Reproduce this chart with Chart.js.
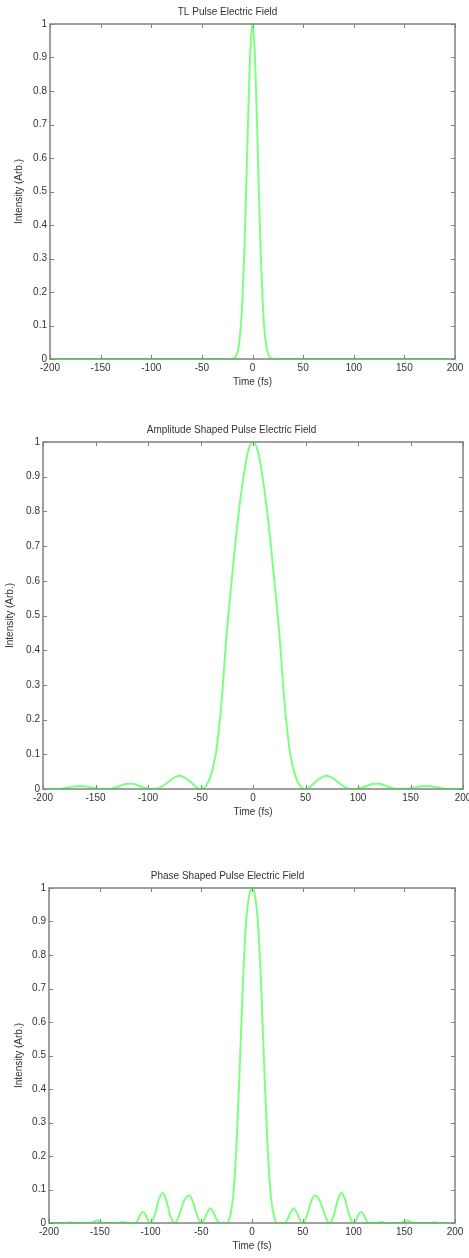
<!DOCTYPE html>
<html>
<head>
<meta charset="utf-8">
<title>Pulse Electric Field</title>
<script src="https://cdn.jsdelivr.net/npm/chart.js@4.4.0/dist/chart.umd.min.js"></script>
<style>
  body { margin: 0; background: #fff; width: 469px; height: 1258px; position: relative; overflow: hidden; }
  canvas { position: absolute; left: 0; }
</style>
</head>
<body>
<canvas id="graficoTL" width="469" height="395" style="top:0px"></canvas>
<canvas id="graficoAmp" width="469" height="407" style="top:418px"></canvas>
<canvas id="graficoFase" width="469" height="395" style="top:864px"></canvas>
<script>
// Tick labels (shared by the three plots)
const timeTicks = [-200, -150, -100, -50, 0, 50, 100, 150, 200];
const intensityTicks = [0, 0.1, 0.2, 0.3, 0.4, 0.5, 0.6, 0.7, 0.8, 0.9, 1];

// 1. TL pulse
const tlTime = [-200, -25, -20, -18, -16, -14, -12, -10, -8, -6, -4, -2, 0,
  2, 4, 6, 8, 10, 12, 14, 16, 18, 20, 25, 200];
const tlIntensity = [0, 0, 0.001, 0.003, 0.011, 0.032, 0.08, 0.174, 0.326, 0.533, 0.756, 0.93, 1,
  0.93, 0.756, 0.533, 0.326, 0.174, 0.08, 0.032, 0.011, 0.003, 0.001, 0, 0];

// 2. Amplitude shaped pulse
const ampTime = [-200, -185, -180, -175, -170, -165, -160, -155, -150, -145, -140, -135, -130, -125,
  -120, -115, -110, -105, -100, -95, -90, -85, -80, -75, -70, -65, -60, -55, -50, -45, -40, -35,
  -30, -25, -20, -15, -10, -5, 0, 5, 10, 15, 20, 25, 30, 35, 40, 45, 50, 55, 60, 65, 70, 75, 80,
  85, 90, 95, 100, 105, 110, 115, 120, 125, 130, 135, 140, 145, 150, 155, 160, 165, 170, 175, 180,
  185, 200];
const ampIntensity = [0, 0, 0.002, 0.005, 0.008, 0.009, 0.008, 0.005, 0.002, 0, 0, 0.001, 0.005, 0.011,
  0.015, 0.015, 0.011, 0.005, 0.001, 0, 0.002, 0.01, 0.022, 0.033, 0.038, 0.033, 0.022, 0.008, 0, 0.008, 0.04, 0.11,
  0.25, 0.45, 0.61, 0.76, 0.88, 0.97, 1, 0.97, 0.88, 0.76, 0.61, 0.45, 0.25, 0.11, 0.04, 0.008, 0, 0.008, 0.022, 0.033, 0.038, 0.033, 0.022,
  0.01, 0.002, 0, 0.001, 0.005, 0.011, 0.015, 0.015, 0.011, 0.005, 0.001, 0, 0, 0.002, 0.005, 0.008, 0.009, 0.008, 0.005, 0.002,
  0, 0];

// 3. Phase shaped pulse
const phaseTime = [-200, -185, -180, -175, -160, -156, -153, -150, -146, -132, -127, -122,
  -115, -112.5, -110, -107.5, -105, -102.5,
  -100, -96, -92, -88, -84.5, -80.5,
  -76.5, -72, -67.5, -62, -58, -54,
  -50, -47, -44, -41, -38, -35,
  -32, -25, -21, -18, -15, -12, -9, -6, -3, 0, 3, 6, 9, 12, 15, 18, 21, 25,
  32, 35, 38, 41, 44, 47,
  50, 54, 58, 62, 67.5, 72,
  76.5, 80.5, 84.5, 88, 92, 96,
  100, 102.5, 105, 107.5, 110, 112.5,
  115, 122, 127, 132, 146, 150, 153, 156, 160, 175, 180, 185, 200];
const phaseIntensity = [0, 0, 0.002, 0, 0, 0.004, 0.008, 0.004, 0, 0, 0.003, 0,
  0, 0.008, 0.025, 0.033, 0.025, 0.008,
  0, 0.022, 0.068, 0.09, 0.068, 0.022,
  0, 0.021, 0.062, 0.083, 0.062, 0.021,
  0, 0.011, 0.032, 0.043, 0.032, 0.011,
  0, 0, 0.03, 0.1, 0.25, 0.47, 0.71, 0.89, 0.975, 1, 0.975, 0.89, 0.71, 0.47, 0.25, 0.1, 0.03, 0,
  0, 0.011, 0.032, 0.043, 0.032, 0.011,
  0, 0.021, 0.062, 0.083, 0.062, 0.021,
  0, 0.022, 0.068, 0.09, 0.068, 0.022,
  0, 0.008, 0.025, 0.033, 0.025, 0.008,
  0, 0, 0.003, 0, 0, 0.004, 0.008, 0.004, 0, 0, 0.002, 0, 0];

const fonte = 'Liberation Sans, Arial, sans-serif';
const corTexto = '#333';

// Box with inward ticks, the MATLAB way
const caixaPlugin = {
  id: 'caixa',
  beforeDatasetsDraw(chart) {
    const { ctx, chartArea: a, scales: { x, y } } = chart;
    ctx.save();
    ctx.strokeStyle = '#808080';
    ctx.lineWidth = 1.5;
    ctx.strokeRect(a.left, a.top, a.right - a.left, a.bottom - a.top);
    ctx.lineWidth = 1;
    ctx.beginPath();
    timeTicks.forEach(t => {
      const px = Math.round(x.getPixelForValue(t)) + 0.5;
      ctx.moveTo(px, a.bottom); ctx.lineTo(px, a.bottom - 4);
      ctx.moveTo(px, a.top); ctx.lineTo(px, a.top + 4);
    });
    intensityTicks.forEach(v => {
      const py = Math.round(y.getPixelForValue(v)) + 0.5;
      ctx.moveTo(a.left, py); ctx.lineTo(a.left + 4, py);
      ctx.moveTo(a.right, py); ctx.lineTo(a.right - 4, py);
    });
    ctx.stroke();
    ctx.restore();
  }
};

// Generic function that builds one plot
function criarGrafico(id, titulo, tempo, intensidade, caixa) {
  const ctx = document.getElementById(id).getContext('2d');
  const pontos = tempo.map((t, i) => ({ x: t, y: intensidade[i] }));
  return new Chart(ctx, {
    type: 'line',
    data: {
      datasets: [{
        data: pontos,
        borderColor: 'rgba(0, 255, 0, 0.5)',
        borderWidth: 2,
        pointRadius: 0,
        cubicInterpolationMode: 'monotone',
        fill: false
      }]
    },
    options: {
      responsive: false,
      animation: false,
      events: [],
      layout: { padding: { left: 0, right: caixa.direita, top: 0, bottom: 0 } },
      plugins: {
        legend: { display: false },
        tooltip: { enabled: false },
        title: {
          display: true,
          text: titulo,
          color: corTexto,
          font: { family: fonte, size: 10, weight: 'normal' },
          padding: { top: 6, bottom: 6 }
        }
      },
      scales: {
        x: {
          type: 'linear',
          min: -200,
          max: 200,
          grid: { display: false, drawTicks: false },
          border: { display: false },
          afterBuildTicks: s => { s.ticks = timeTicks.map(v => ({ value: v })); },
          afterFit: s => { s.height = 36; s.paddingLeft = 0; s.paddingRight = 0; },
          ticks: {
            color: corTexto,
            font: { family: fonte, size: 10 },
            padding: 3,
            maxRotation: 0,
            autoSkip: false,
            callback: v => v
          },
          title: {
            display: true,
            text: 'Time (fs)',
            color: corTexto,
            font: { family: fonte, size: 10 },
            padding: { top: 0, bottom: 7 }
          }
        },
        y: {
          min: 0,
          max: 1,
          grid: { display: false, drawTicks: false },
          border: { display: false },
          afterBuildTicks: s => { s.ticks = intensityTicks.map(v => ({ value: v })); },
          afterFit: s => { s.width = caixa.esquerda; s.paddingTop = 0; s.paddingBottom = 0; },
          ticks: {
            color: corTexto,
            font: { family: fonte, size: 10 },
            padding: 3,
            autoSkip: false,
            callback: v => +v.toFixed(1)
          },
          title: {
            display: true,
            text: 'Intensity (Arb.)',
            color: corTexto,
            font: { family: fonte, size: 10 },
            padding: { top: caixa.tituloY, bottom: 0 }
          }
        }
      }
    },
    plugins: [caixaPlugin]
  });
}

let graficoTL = criarGrafico('graficoTL', 'TL Pulse Electric Field', tlTime, tlIntensity,
  { esquerda: 50, direita: 14, tituloY: 13 });
let graficoAmp = criarGrafico('graficoAmp', 'Amplitude Shaped Pulse Electric Field', ampTime, ampIntensity,
  { esquerda: 43, direita: 6, tituloY: 4 });
let graficoFase = criarGrafico('graficoFase', 'Phase Shaped Pulse Electric Field', phaseTime, phaseIntensity,
  { esquerda: 49, direita: 14, tituloY: 13 });
</script>
</body>
</html>
